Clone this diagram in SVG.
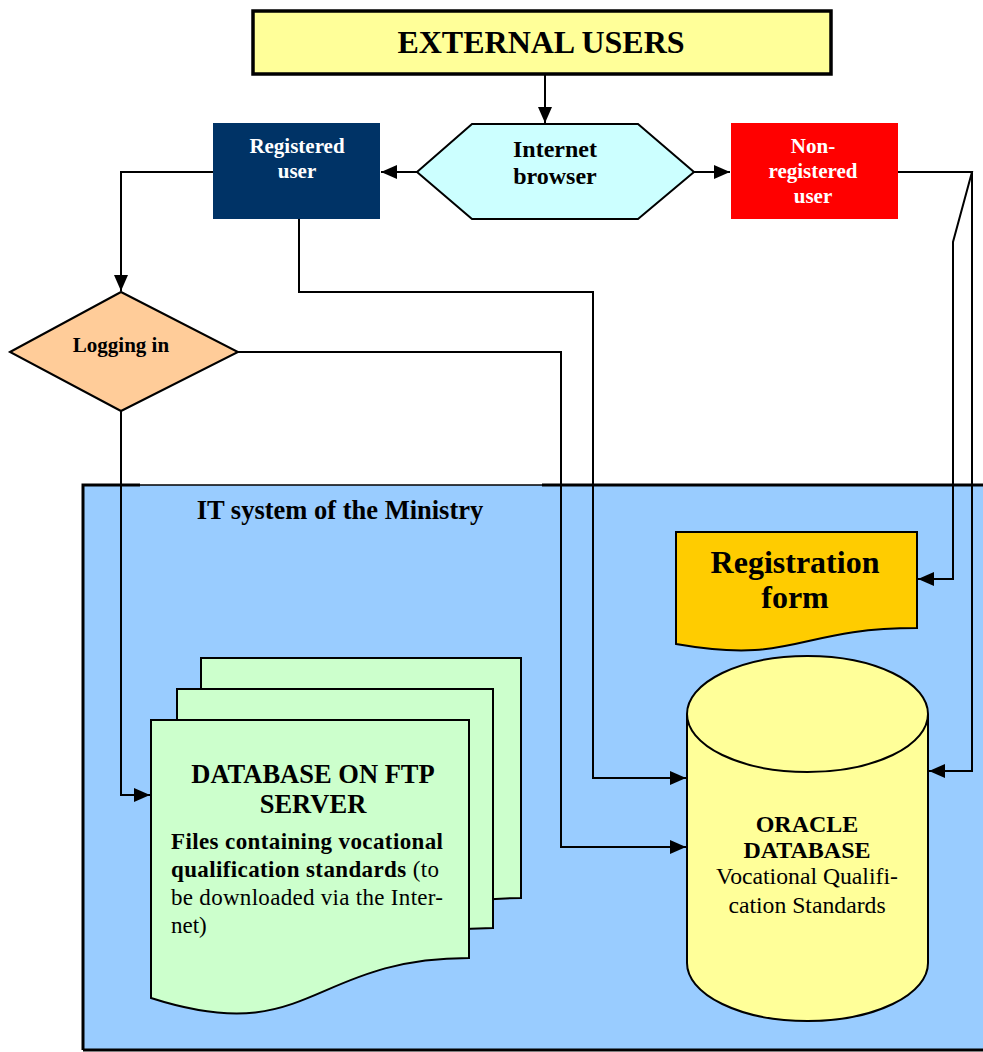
<svg xmlns="http://www.w3.org/2000/svg" width="983" height="1052" viewBox="0 0 983 1052">
  <style>
    .t { font-family: "Liberation Serif", "Times New Roman", serif; fill: #000; }
    .b { font-weight: bold; }
    .w { fill: #fff; }
    .c { text-anchor: middle; }
    .shape { stroke: #000; stroke-width: 2; }
    .conn { fill: none; stroke: #000; stroke-width: 2; }
  </style>
  <defs>
    <marker id="arrow" markerUnits="userSpaceOnUse" markerWidth="18" markerHeight="16" refX="16" refY="7" orient="auto">
      <path d="M0,0 L16,7 L0,14 Z" fill="#000"/>
    </marker>
  </defs>

  <rect width="983" height="1052" fill="#fff"/>

  <!-- IT system container -->
  <g id="it-system">
    <rect x="83" y="485" width="960" height="565" fill="#99CCFF" stroke="none"/>
    <path d="M83,1050 V485 H140 M542,485 H1000 M83,1050 H1000" fill="none" stroke="#000" stroke-width="3"/>
    <path d="M140,485 H542" fill="none" stroke="#000" stroke-width="1.5"/>
    <text class="t b c" x="340" y="519" font-size="26.5">IT system of the Ministry</text>
  </g>

  <!-- connectors -->
  <g id="connectors" class="conn">
    <path d="M545,75 V123" marker-end="url(#arrow)"/>
    <path d="M417,172 H381" marker-end="url(#arrow)"/>
    <path d="M694,172 H730" marker-end="url(#arrow)"/>
    <path d="M213,172 H121 V291" marker-end="url(#arrow)"/>
    <path d="M299,219 V292 H593 V778 H686" marker-end="url(#arrow)"/>
    <path d="M238,352 H561 V847 H686" marker-end="url(#arrow)"/>
    <path d="M121,411 V795 H150" marker-end="url(#arrow)"/>
    <path d="M898,172 H972 L953,242 V579 H918" marker-end="url(#arrow)"/>
    <path d="M972,172 V771 H929" marker-end="url(#arrow)"/>
  </g>

  <!-- top: external users -->
  <g id="external-users">
    <rect x="253" y="11" width="578" height="63" fill="#FFFF99" stroke="#000" stroke-width="3.5"/>
    <text class="t b c" x="541" y="53" font-size="32">EXTERNAL USERS</text>
  </g>

  <g id="internet-browser">
    <polygon class="shape" points="417,172 472,124 638,124 694,172 638,219 472,219" fill="#CCFFFF"/>
    <text class="t b c" x="555" y="157" font-size="24">Internet</text>
    <text class="t b c" x="555" y="184" font-size="24">browser</text>
  </g>

  <g id="registered-user">
    <rect x="213" y="123" width="167" height="96" fill="#003366"/>
    <text class="t b c w" x="297" y="153" font-size="21">Registered</text>
    <text class="t b c w" x="297" y="178" font-size="21">user</text>
  </g>

  <g id="non-registered-user">
    <rect x="731" y="123" width="167" height="96" fill="#FF0000"/>
    <text class="t b c w" x="813" y="153" font-size="21">Non-</text>
    <text class="t b c w" x="813" y="178" font-size="21">registered</text>
    <text class="t b c w" x="813" y="203" font-size="21">user</text>
  </g>

  <g id="logging-in">
    <polygon class="shape" points="10,352 121,292 238,352 121,411" fill="#FFCC99"/>
    <text class="t b c" x="121" y="352" font-size="21">Logging in</text>
  </g>

  <g id="registration-form">
    <path class="shape" d="M676,532 H917 V628 C796,628 796,665 676,644 Z" fill="#FFCC00"/>
    <text class="t b c" x="795" y="573" font-size="32">Registration</text>
    <text class="t b c" x="795" y="608" font-size="32">form</text>
  </g>

  <g id="ftp-database">
    <path class="shape" d="M201,658 H521 V898 C361,898 361,989 201,937 Z" fill="#CCFFCC"/>
    <path class="shape" d="M177,689 H493 V928 C335,928 335,1019 177,967 Z" fill="#CCFFCC"/>
    <path class="shape" d="M151,720 H469 V958 C310,958 310,1049 151,998 Z" fill="#CCFFCC"/>
    <text class="t b c" x="313" y="783" font-size="26.5">DATABASE ON FTP</text>
    <text class="t b c" x="313" y="813" font-size="26.5">SERVER</text>
    <text class="t b" x="171" y="849" font-size="23" textLength="272" lengthAdjust="spacing">Files containing vocational</text>
    <text class="t" x="171" y="877" font-size="23" textLength="268" lengthAdjust="spacing"><tspan class="b">qualification standards</tspan> (to</text>
    <text class="t" x="171" y="905" font-size="23" textLength="272" lengthAdjust="spacing">be downloaded via the Inter-</text>
    <text class="t" x="171" y="933" font-size="23">net)</text>
  </g>

  <g id="oracle-database">
    <path class="shape" d="M687,714 V963 A120.5,58 0 0 0 928,963 V714" fill="#FFFF99"/>
    <ellipse class="shape" cx="807.5" cy="714" rx="120.5" ry="58" fill="#FFFF99"/>
    <text class="t b c" x="807" y="832" font-size="24">ORACLE</text>
    <text class="t b c" x="807" y="858" font-size="24">DATABASE</text>
    <text class="t c" x="807" y="884" font-size="23.7">Vocational Qualifi-</text>
    <text class="t c" x="807" y="913" font-size="23.7">cation Standards</text>
  </g>
</svg>
